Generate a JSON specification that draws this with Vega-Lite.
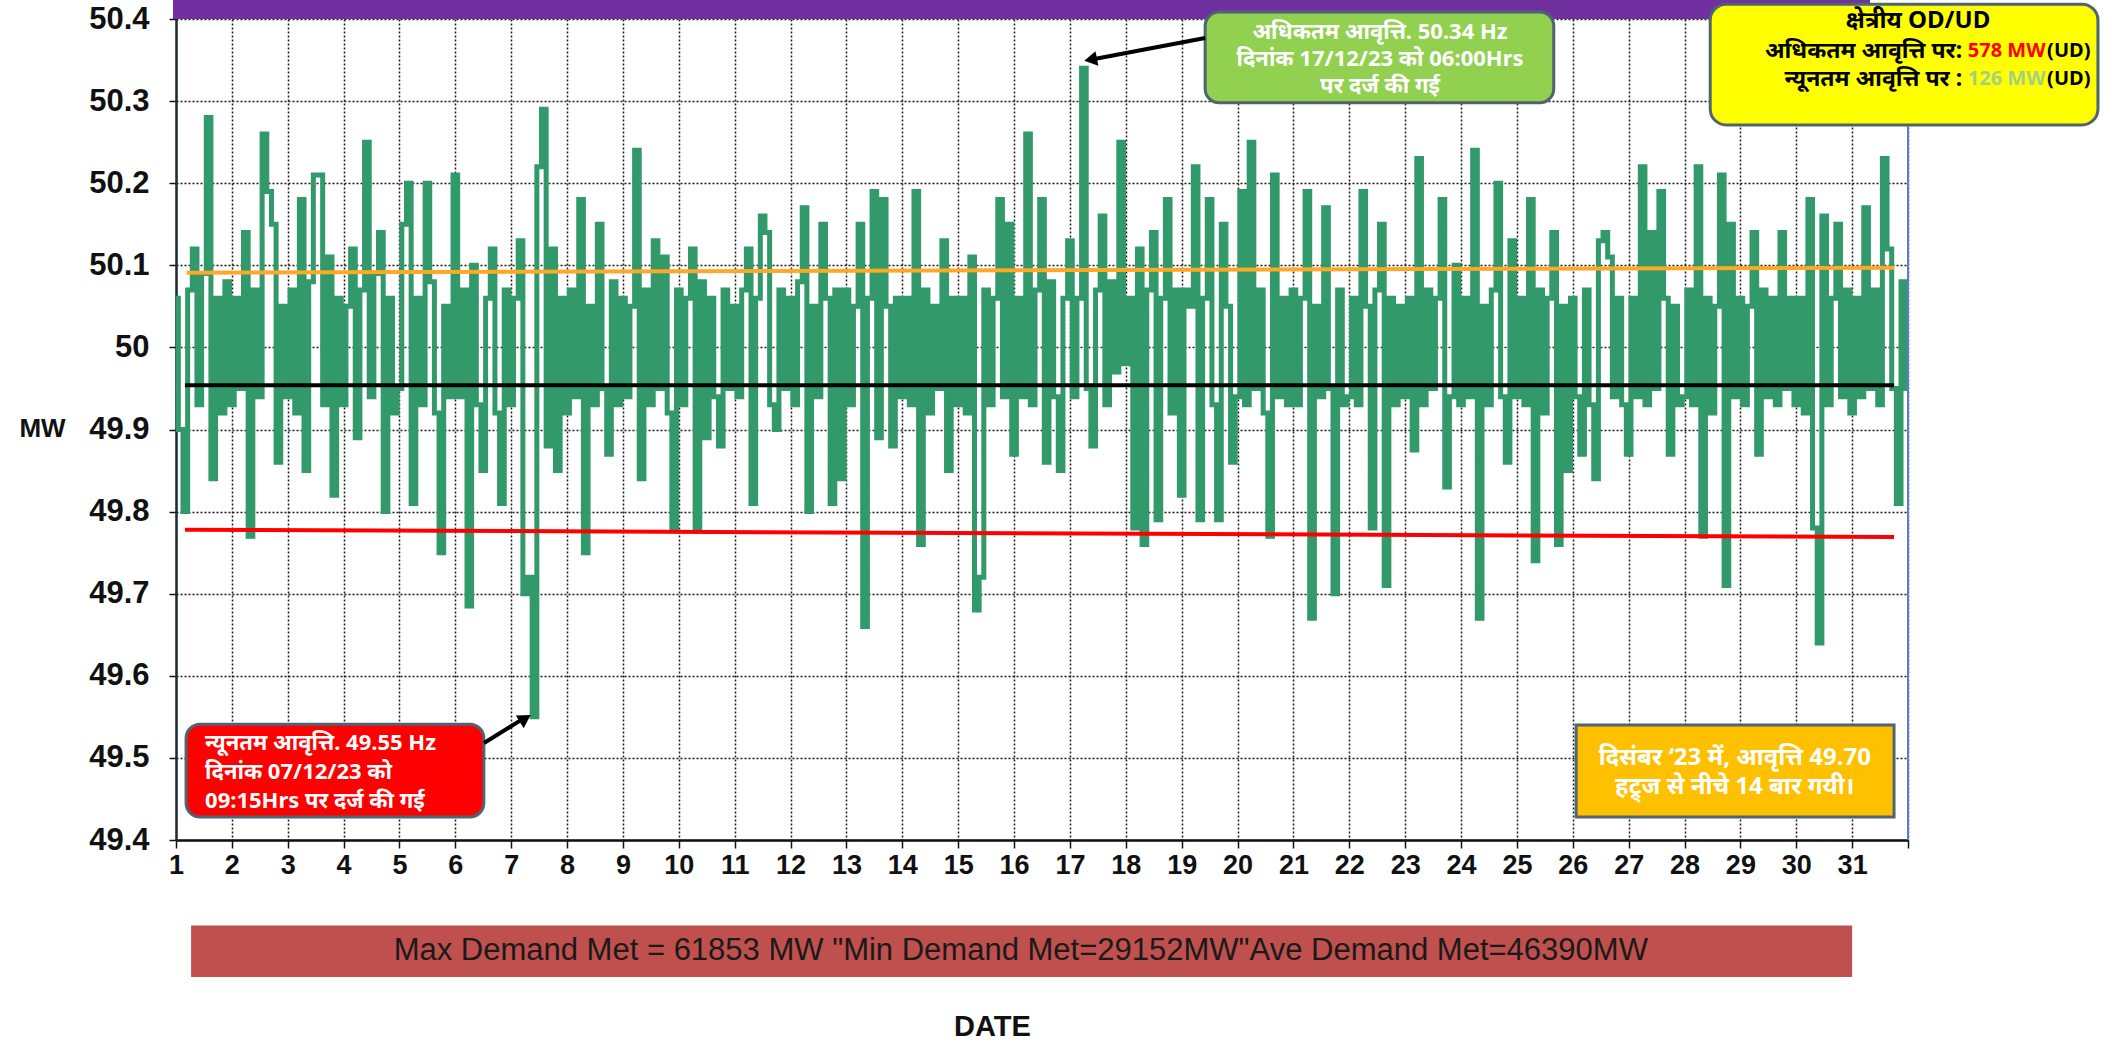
{
  "$schema": "https://vega.github.io/schema/vega-lite/v6.json",
  "width": 1732,
  "height": 821,
  "autosize": {"type": "none"},
  "padding": {"left": 176, "top": 19, "right": 217, "bottom": 206},
  "background": "white",
  "config": {"view": {"stroke": null}},
  "data": {"values": [{}]},
  "datasets": {
    "freq": [
      {"t":1,"f":50.06},{"t":1.083,"f":49.90},{"t":1.167,"f":49.80},{"t":1.25,"f":50.07},{"t":1.333,"f":50.12},{"t":1.417,"f":49.93},{"t":1.5,"f":50.09},{"t":1.583,"f":50.28},{"t":1.667,"f":49.84},{"t":1.75,"f":50.06},{"t":1.833,"f":49.92},{"t":1.917,"f":50.08},
      {"t":2,"f":49.93},{"t":2.083,"f":50.06},{"t":2.167,"f":49.95},{"t":2.25,"f":50.14},{"t":2.333,"f":49.77},{"t":2.417,"f":50.07},{"t":2.5,"f":49.94},{"t":2.583,"f":50.26},{"t":2.667,"f":50.19},{"t":2.75,"f":50.15},{"t":2.833,"f":49.86},{"t":2.917,"f":50.05},
      {"t":3,"f":49.94},{"t":3.083,"f":50.07},{"t":3.167,"f":49.92},{"t":3.25,"f":50.18},{"t":3.333,"f":49.85},{"t":3.417,"f":50.08},{"t":3.5,"f":50.21},{"t":3.583,"f":50.21},{"t":3.667,"f":49.93},{"t":3.75,"f":50.11},{"t":3.833,"f":49.82},{"t":3.917,"f":50.06},
      {"t":4,"f":49.93},{"t":4.083,"f":50.05},{"t":4.167,"f":50.12},{"t":4.25,"f":49.89},{"t":4.333,"f":50.07},{"t":4.417,"f":50.25},{"t":4.5,"f":49.94},{"t":4.583,"f":50.09},{"t":4.667,"f":50.14},{"t":4.75,"f":49.80},{"t":4.833,"f":50.06},{"t":4.917,"f":49.92},
      {"t":5,"f":49.95},{"t":5.083,"f":50.15},{"t":5.167,"f":50.20},{"t":5.25,"f":49.81},{"t":5.333,"f":50.06},{"t":5.417,"f":49.93},{"t":5.5,"f":50.20},{"t":5.583,"f":50.08},{"t":5.667,"f":49.92},{"t":5.75,"f":49.75},{"t":5.833,"f":50.05},{"t":5.917,"f":49.94},
      {"t":6,"f":50.21},{"t":6.083,"f":49.94},{"t":6.167,"f":50.07},{"t":6.25,"f":49.685},{"t":6.333,"f":50.10},{"t":6.417,"f":49.93},{"t":6.5,"f":49.85},{"t":6.583,"f":50.06},{"t":6.667,"f":50.12},{"t":6.75,"f":49.92},{"t":6.833,"f":49.81},{"t":6.917,"f":50.07},
      {"t":7,"f":49.93},{"t":7.083,"f":50.06},{"t":7.167,"f":50.13},{"t":7.25,"f":49.70},{"t":7.333,"f":49.72},{"t":7.417,"f":49.55},{"t":7.5,"f":50.22},{"t":7.583,"f":50.29},{"t":7.667,"f":49.88},{"t":7.75,"f":50.12},{"t":7.833,"f":49.85},{"t":7.917,"f":50.06},
      {"t":8,"f":49.92},{"t":8.083,"f":50.07},{"t":8.167,"f":49.94},{"t":8.25,"f":50.18},{"t":8.333,"f":49.75},{"t":8.417,"f":50.05},{"t":8.5,"f":49.93},{"t":8.583,"f":50.15},{"t":8.667,"f":49.95},{"t":8.75,"f":49.87},{"t":8.833,"f":50.08},{"t":8.917,"f":49.93},
      {"t":9,"f":50.06},{"t":9.083,"f":49.94},{"t":9.167,"f":50.05},{"t":9.25,"f":50.24},{"t":9.333,"f":49.84},{"t":9.417,"f":50.07},{"t":9.5,"f":49.93},{"t":9.583,"f":50.13},{"t":9.667,"f":49.95},{"t":9.75,"f":50.11},{"t":9.833,"f":49.92},{"t":9.917,"f":49.78},
      {"t":10,"f":50.07},{"t":10.083,"f":49.93},{"t":10.167,"f":50.06},{"t":10.25,"f":50.12},{"t":10.333,"f":49.78},{"t":10.417,"f":50.08},{"t":10.5,"f":49.89},{"t":10.583,"f":50.06},{"t":10.667,"f":49.94},{"t":10.75,"f":49.88},{"t":10.833,"f":50.07},{"t":10.917,"f":49.95},
      {"t":11,"f":50.05},{"t":11.083,"f":49.94},{"t":11.167,"f":50.07},{"t":11.25,"f":50.12},{"t":11.333,"f":49.81},{"t":11.417,"f":50.06},{"t":11.5,"f":50.16},{"t":11.583,"f":50.14},{"t":11.667,"f":49.93},{"t":11.75,"f":49.90},{"t":11.833,"f":50.07},{"t":11.917,"f":49.95},
      {"t":12,"f":50.06},{"t":12.083,"f":49.93},{"t":12.167,"f":50.08},{"t":12.25,"f":50.17},{"t":12.333,"f":49.80},{"t":12.417,"f":50.05},{"t":12.5,"f":49.94},{"t":12.583,"f":50.15},{"t":12.667,"f":50.06},{"t":12.75,"f":49.81},{"t":12.833,"f":50.07},{"t":12.917,"f":49.84},
      {"t":13,"f":50.07},{"t":13.083,"f":49.93},{"t":13.167,"f":50.05},{"t":13.25,"f":50.15},{"t":13.333,"f":49.66},{"t":13.417,"f":50.06},{"t":13.5,"f":50.19},{"t":13.583,"f":49.89},{"t":13.667,"f":50.18},{"t":13.75,"f":50.05},{"t":13.833,"f":49.88},{"t":13.917,"f":50.06},
      {"t":14,"f":49.94},{"t":14.083,"f":50.06},{"t":14.167,"f":49.93},{"t":14.25,"f":50.19},{"t":14.333,"f":49.76},{"t":14.417,"f":50.07},{"t":14.5,"f":49.92},{"t":14.583,"f":50.05},{"t":14.667,"f":49.95},{"t":14.75,"f":50.13},{"t":14.833,"f":49.85},{"t":14.917,"f":50.06},
      {"t":15,"f":49.93},{"t":15.083,"f":50.06},{"t":15.167,"f":49.92},{"t":15.25,"f":50.11},{"t":15.333,"f":49.68},{"t":15.417,"f":49.72},{"t":15.5,"f":50.07},{"t":15.583,"f":49.93},{"t":15.667,"f":50.06},{"t":15.75,"f":50.18},{"t":15.833,"f":49.94},{"t":15.917,"f":50.15},
      {"t":16,"f":49.87},{"t":16.083,"f":50.06},{"t":16.167,"f":49.94},{"t":16.25,"f":50.26},{"t":16.333,"f":49.93},{"t":16.417,"f":50.07},{"t":16.5,"f":50.18},{"t":16.583,"f":49.86},{"t":16.667,"f":50.08},{"t":16.75,"f":49.94},{"t":16.833,"f":49.85},{"t":16.917,"f":50.06},
      {"t":17,"f":50.13},{"t":17.083,"f":49.94},{"t":17.167,"f":50.06},{"t":17.25,"f":50.34},{"t":17.333,"f":49.95},{"t":17.417,"f":49.88},{"t":17.5,"f":50.07},{"t":17.583,"f":50.16},{"t":17.667,"f":49.93},{"t":17.75,"f":50.08},{"t":17.833,"f":49.97},{"t":17.917,"f":50.25},
      {"t":18,"f":49.98},{"t":18.083,"f":50.06},{"t":18.167,"f":49.78},{"t":18.25,"f":50.12},{"t":18.333,"f":49.76},{"t":18.417,"f":50.07},{"t":18.5,"f":50.14},{"t":18.583,"f":49.79},{"t":18.667,"f":50.06},{"t":18.75,"f":50.18},{"t":18.833,"f":49.92},{"t":18.917,"f":50.07},
      {"t":19,"f":49.82},{"t":19.083,"f":50.07},{"t":19.167,"f":50.05},{"t":19.25,"f":50.22},{"t":19.333,"f":49.79},{"t":19.417,"f":50.06},{"t":19.5,"f":50.18},{"t":19.583,"f":49.93},{"t":19.667,"f":49.79},{"t":19.75,"f":50.15},{"t":19.833,"f":50.05},{"t":19.917,"f":49.86},
      {"t":20,"f":49.94},{"t":20.083,"f":50.19},{"t":20.167,"f":49.93},{"t":20.25,"f":50.25},{"t":20.333,"f":49.95},{"t":20.417,"f":50.07},{"t":20.5,"f":49.92},{"t":20.583,"f":49.77},{"t":20.667,"f":50.21},{"t":20.75,"f":49.94},{"t":20.833,"f":50.06},{"t":20.917,"f":49.93},
      {"t":21,"f":50.07},{"t":21.083,"f":49.93},{"t":21.167,"f":50.06},{"t":21.25,"f":50.19},{"t":21.333,"f":49.67},{"t":21.417,"f":50.05},{"t":21.5,"f":49.94},{"t":21.583,"f":50.17},{"t":21.667,"f":49.95},{"t":21.75,"f":49.70},{"t":21.833,"f":50.07},{"t":21.917,"f":49.93},
      {"t":22,"f":49.94},{"t":22.083,"f":50.06},{"t":22.167,"f":49.93},{"t":22.25,"f":50.19},{"t":22.333,"f":50.05},{"t":22.417,"f":49.78},{"t":22.5,"f":50.07},{"t":22.583,"f":50.15},{"t":22.667,"f":49.71},{"t":22.75,"f":50.06},{"t":22.833,"f":49.93},{"t":22.917,"f":50.05},
      {"t":23,"f":49.94},{"t":23.083,"f":50.06},{"t":23.167,"f":49.875},{"t":23.25,"f":50.23},{"t":23.333,"f":49.93},{"t":23.417,"f":50.07},{"t":23.5,"f":49.95},{"t":23.583,"f":50.06},{"t":23.667,"f":50.18},{"t":23.75,"f":49.83},{"t":23.833,"f":49.94},{"t":23.917,"f":50.10},
      {"t":24,"f":49.93},{"t":24.083,"f":50.06},{"t":24.167,"f":49.94},{"t":24.25,"f":50.24},{"t":24.333,"f":49.67},{"t":24.417,"f":50.05},{"t":24.5,"f":49.93},{"t":24.583,"f":50.07},{"t":24.667,"f":50.20},{"t":24.75,"f":49.94},{"t":24.833,"f":49.86},{"t":24.917,"f":50.13},
      {"t":25,"f":49.94},{"t":25.083,"f":50.06},{"t":25.167,"f":49.93},{"t":25.25,"f":50.18},{"t":25.333,"f":49.74},{"t":25.417,"f":50.07},{"t":25.5,"f":49.92},{"t":25.583,"f":50.06},{"t":25.667,"f":50.14},{"t":25.75,"f":49.76},{"t":25.833,"f":50.05},{"t":25.917,"f":49.85},
      {"t":26,"f":50.06},{"t":26.083,"f":49.94},{"t":26.167,"f":49.87},{"t":26.25,"f":50.07},{"t":26.333,"f":49.93},{"t":26.417,"f":49.84},{"t":26.5,"f":50.13},{"t":26.583,"f":50.14},{"t":26.667,"f":50.11},{"t":26.75,"f":49.94},{"t":26.833,"f":50.06},{"t":26.917,"f":49.93},
      {"t":27,"f":49.87},{"t":27.083,"f":50.06},{"t":27.167,"f":49.94},{"t":27.25,"f":50.22},{"t":27.333,"f":49.93},{"t":27.417,"f":50.14},{"t":27.5,"f":49.95},{"t":27.583,"f":50.19},{"t":27.667,"f":50.06},{"t":27.75,"f":49.87},{"t":27.833,"f":50.05},{"t":27.917,"f":49.93},
      {"t":28,"f":49.94},{"t":28.083,"f":50.07},{"t":28.167,"f":49.93},{"t":28.25,"f":50.22},{"t":28.333,"f":49.77},{"t":28.417,"f":50.06},{"t":28.5,"f":49.92},{"t":28.583,"f":50.05},{"t":28.667,"f":50.21},{"t":28.75,"f":49.71},{"t":28.833,"f":50.15},{"t":28.917,"f":49.94},
      {"t":29,"f":50.06},{"t":29.083,"f":49.93},{"t":29.167,"f":50.05},{"t":29.25,"f":50.14},{"t":29.333,"f":49.87},{"t":29.417,"f":50.07},{"t":29.5,"f":49.94},{"t":29.583,"f":50.06},{"t":29.667,"f":49.93},{"t":29.75,"f":50.14},{"t":29.833,"f":49.95},{"t":29.917,"f":50.06},
      {"t":30,"f":49.93},{"t":30.083,"f":50.06},{"t":30.167,"f":49.92},{"t":30.25,"f":50.18},{"t":30.333,"f":49.78},{"t":30.417,"f":49.64},{"t":30.5,"f":50.16},{"t":30.583,"f":49.93},{"t":30.667,"f":50.06},{"t":30.75,"f":50.15},{"t":30.833,"f":49.94},{"t":30.917,"f":50.07},
      {"t":31,"f":49.92},{"t":31.083,"f":50.06},{"t":31.167,"f":49.94},{"t":31.25,"f":50.17},{"t":31.333,"f":49.95},{"t":31.417,"f":50.07},{"t":31.5,"f":49.93},{"t":31.583,"f":50.23},{"t":31.667,"f":50.12},{"t":31.75,"f":49.95},{"t":31.833,"f":49.81},{"t":31.917,"f":50.08},
      {"t":31.99,"f":49.95}
    ],
    "trend": [
      {"s":"upper","t1":1.19,"f1":50.091,"t2":31.75,"f2":50.097},
      {"s":"mean","t1":1.16,"f1":49.954,"t2":31.75,"f2":49.954},
      {"s":"lower","t1":1.16,"f1":49.778,"t2":31.75,"f2":49.769}
    ]
  },
  "layer": [
    {
      "data": {"name": "freq"},
      "mark": {"type": "line", "interpolate": "step", "color": "#31996a", "strokeWidth": 5, "strokeJoin": "miter"},
      "encoding": {
        "x": {"field": "t", "type": "quantitative",
          "scale": {"domain": [1, 32], "nice": false, "zero": false},
          "axis": {"values": [1,2,3,4,5,6,7,8,9,10,11,12,13,14,15,16,17,18,19,20,21,22,23,24,25,26,27,28,29,30,31,32],
            "labelExpr": "datum.value < 32 ? '' + datum.value : ''",
            "grid": true, "gridColor": "#1a1a1a", "gridDash": [2, 2], "gridWidth": 1.5,
            "domainColor": "#111111", "domainWidth": 2.5, "tickColor": "#111111", "tickSize": 8, "tickWidth": 1.5,
            "labelFont": "Liberation Sans", "labelFontSize": 27, "labelFontWeight": "bold", "labelColor": "#111111", "labelPadding": 4, "labelFlush": false,
            "title": "DATE", "titleFont": "Liberation Sans", "titleFontSize": 29, "titleFontWeight": "bold", "titleColor": "#111111",
            "titleX": 816, "titleY": 186, "titleBaseline": "middle"}},
        "y": {"field": "f", "type": "quantitative",
          "scale": {"domain": [49.4, 50.4], "nice": false, "zero": false},
          "axis": {"values": [49.4,49.5,49.6,49.7,49.8,49.9,50,50.1,50.2,50.3,50.4],
            "labelExpr": "datum.value == 50 ? '50' : format(datum.value, '.1f')",
            "grid": true, "gridColor": "#1a1a1a", "gridDash": [2, 2], "gridWidth": 1.5,
            "domainColor": "#1c2b3a", "domainWidth": 2.5, "tickColor": "#111111", "tickSize": 7, "tickWidth": 1.5,
            "labelFont": "Liberation Sans", "labelFontSize": 31, "labelFontWeight": "bold", "labelColor": "#111111", "labelPadding": 20,
            "title": "MW", "titleFont": "Liberation Sans", "titleFontSize": 26, "titleFontWeight": "bold", "titleColor": "#111111",
            "titleAngle": 0, "titleX": -134, "titleY": 409, "titleAlign": "center", "titleBaseline": "middle"}}
      }
    },
    {
      "data": {"name": "trend"},
      "mark": {"type": "rule", "strokeWidth": 4},
      "encoding": {
        "x": {"field": "t1", "type": "quantitative"},
        "x2": {"field": "t2"},
        "y": {"field": "f1", "type": "quantitative"},
        "y2": {"field": "f2"},
        "color": {"field": "s", "type": "nominal", "legend": null,
          "scale": {"domain": ["upper", "mean", "lower"], "range": ["#ffa726", "#000000", "#ff0000"]}}
      }
    },
    {
      "mark": {"type": "rule", "color": "#5b7fc7", "strokeWidth": 2},
      "encoding": {
        "x": {"datum": 32, "type": "quantitative"},
        "y": {"datum": 49.4, "type": "quantitative"},
        "y2": {"datum": 50.27}
      }
    },
    {
      "mark": {"type": "rect", "color": "#7030a0"},
      "encoding": {
        "x": {"datum": 0.946, "type": "quantitative"}, "x2": {"datum": 31.32},
        "y": {"datum": 50.4, "type": "quantitative"}, "y2": {"datum": 50.45}
      }
    },
    {
      "mark": {"type": "rect", "color": "#c0504d"},
      "encoding": {
        "x": {"datum": 1.27, "type": "quantitative"}, "x2": {"datum": 31.0},
        "y": {"datum": 49.233, "type": "quantitative"}, "y2": {"datum": 49.296}
      }
    },
    {
      "mark": {"type": "rect", "fill": "#ffc000", "stroke": "#4f6470", "strokeWidth": 3},
      "encoding": {
        "x": {"datum": 26.06, "type": "quantitative"}, "x2": {"datum": 31.75},
        "y": {"datum": 49.428, "type": "quantitative"}, "y2": {"datum": 49.540}
      }
    },
    {
      "mark": {"type": "rect", "fill": "#92d050", "stroke": "#4f6470", "strokeWidth": 3, "cornerRadius": 14},
      "encoding": {
        "x": {"datum": 19.42, "type": "quantitative"}, "x2": {"datum": 25.66},
        "y": {"datum": 50.298, "type": "quantitative"}, "y2": {"datum": 50.4085}
      }
    },
    {
      "mark": {"type": "rect", "fill": "#ffff00", "stroke": "#4f6470", "strokeWidth": 3, "cornerRadius": 16},
      "encoding": {
        "x": {"datum": 28.46, "type": "quantitative"}, "x2": {"datum": 35.40},
        "y": {"datum": 50.271, "type": "quantitative"}, "y2": {"datum": 50.418}
      }
    },
    {
      "mark": {"type": "rect", "fill": "#ff0000", "stroke": "#4f6470", "strokeWidth": 3, "cornerRadius": 14},
      "encoding": {
        "x": {"datum": 1.18, "type": "quantitative"}, "x2": {"datum": 6.51},
        "y": {"datum": 49.428, "type": "quantitative"}, "y2": {"datum": 49.541}
      }
    },
    {
      "mark": {"type": "rule", "color": "#000000", "strokeWidth": 4},
      "encoding": {
        "x": {"datum": 19.42, "type": "quantitative"}, "x2": {"datum": 17.39},
        "y": {"datum": 50.3769, "type": "quantitative"}, "y2": {"datum": 50.3507}
      }
    },
    {
      "mark": {"type": "point", "shape": "triangle-up", "filled": true, "color": "#000000", "opacity": 1, "size": 220, "angle": 259},
      "encoding": {
        "x": {"datum": 17.37, "type": "quantitative"},
        "y": {"datum": 50.3505, "type": "quantitative"}
      }
    },
    {
      "mark": {"type": "rule", "color": "#000000", "strokeWidth": 4},
      "encoding": {
        "x": {"datum": 6.513, "type": "quantitative"}, "x2": {"datum": 7.232},
        "y": {"datum": 49.5181, "type": "quantitative"}, "y2": {"datum": 49.5484}
      }
    },
    {
      "mark": {"type": "point", "shape": "triangle-up", "filled": true, "color": "#000000", "opacity": 1, "size": 220, "angle": 58},
      "encoding": {
        "x": {"datum": 7.25, "type": "quantitative"},
        "y": {"datum": 49.548, "type": "quantitative"}
      }
    },
    {
      "mark": {"type": "text", "text": ["अधिकतम आवृत्ति. 50.34 Hz", "दिनांक 17/12/23 को 06:00Hrs", "पर दर्ज की गई"], "lineHeight": 27, "font": "Noto Sans", "fontSize": 22, "fontWeight": "bold", "color": "#ffffff", "align": "center", "baseline": "middle"},
      "encoding": {
        "x": {"datum": 22.55, "type": "quantitative"},
        "y": {"datum": 50.3842, "type": "quantitative"}
      }
    },
    {
      "mark": {"type": "text", "text": "क्षेत्रीय OD/UD", "font": "Noto Sans", "fontSize": 24, "fontWeight": "bold", "color": "#000000", "align": "center", "baseline": "middle"},
      "encoding": {
        "x": {"datum": 32.18, "type": "quantitative"},
        "y": {"datum": 50.3976, "type": "quantitative"}
      }
    },
    {
      "mark": {"type": "text", "text": ["अधिकतम आवृत्ति पर:", "न्यूनतम आवृत्ति पर :"], "lineHeight": 28, "font": "Noto Sans", "fontSize": 23, "fontWeight": "bold", "color": "#000000", "align": "right", "baseline": "middle"},
      "encoding": {
        "x": {"datum": 32.97, "type": "quantitative"},
        "y": {"datum": 50.3610, "type": "quantitative"}
      }
    },
    {
      "mark": {"type": "text", "text": "578 MW", "font": "Noto Sans", "fontSize": 20, "fontWeight": "bold", "color": "#ff0000", "align": "left", "baseline": "middle"},
      "encoding": {
        "x": {"datum": 33.07, "type": "quantitative"},
        "y": {"datum": 50.3610, "type": "quantitative"}
      }
    },
    {
      "mark": {"type": "text", "text": "126 MW", "font": "Noto Sans", "fontSize": 20, "fontWeight": "bold", "color": "#a3cf85", "align": "left", "baseline": "middle"},
      "encoding": {
        "x": {"datum": 33.07, "type": "quantitative"},
        "y": {"datum": 50.3269, "type": "quantitative"}
      }
    },
    {
      "mark": {"type": "text", "text": ["(UD)", "(UD)"], "lineHeight": 28, "font": "Noto Sans", "fontSize": 20, "fontWeight": "bold", "color": "#000000", "align": "left", "baseline": "middle"},
      "encoding": {
        "x": {"datum": 34.49, "type": "quantitative"},
        "y": {"datum": 50.3610, "type": "quantitative"}
      }
    },
    {
      "mark": {"type": "text", "text": ["न्यूनतम आवृत्ति. 49.55 Hz", " दिनांक 07/12/23 को", "09:15Hrs  पर दर्ज  की  गई"], "lineHeight": 29, "font": "Noto Sans", "fontSize": 22, "fontWeight": "bold", "color": "#ffffff", "align": "left", "baseline": "middle"},
      "encoding": {
        "x": {"datum": 1.52, "type": "quantitative"},
        "y": {"datum": 49.5181, "type": "quantitative"}
      }
    },
    {
      "mark": {"type": "text", "text": ["दिसंबर ‘23 में, आवृत्ति 49.70", "हट्र्ज से नीचे 14 बार गयी।"], "lineHeight": 29, "font": "Noto Sans", "fontSize": 24, "fontWeight": "bold", "color": "#ffffff", "align": "center", "baseline": "middle"},
      "encoding": {
        "x": {"datum": 28.90, "type": "quantitative"},
        "y": {"datum": 49.4999, "type": "quantitative"}
      }
    },
    {
      "mark": {"type": "text", "text": "Max Demand Met = 61853 MW \"Min Demand Met=29152MW\"Ave Demand Met=46390MW", "font": "Liberation Sans", "fontSize": 31, "color": "#1a1a1a", "align": "center", "baseline": "middle"},
      "encoding": {
        "x": {"datum": 16.12, "type": "quantitative"},
        "y": {"datum": 49.2648, "type": "quantitative"}
      }
    }
  ]
}
